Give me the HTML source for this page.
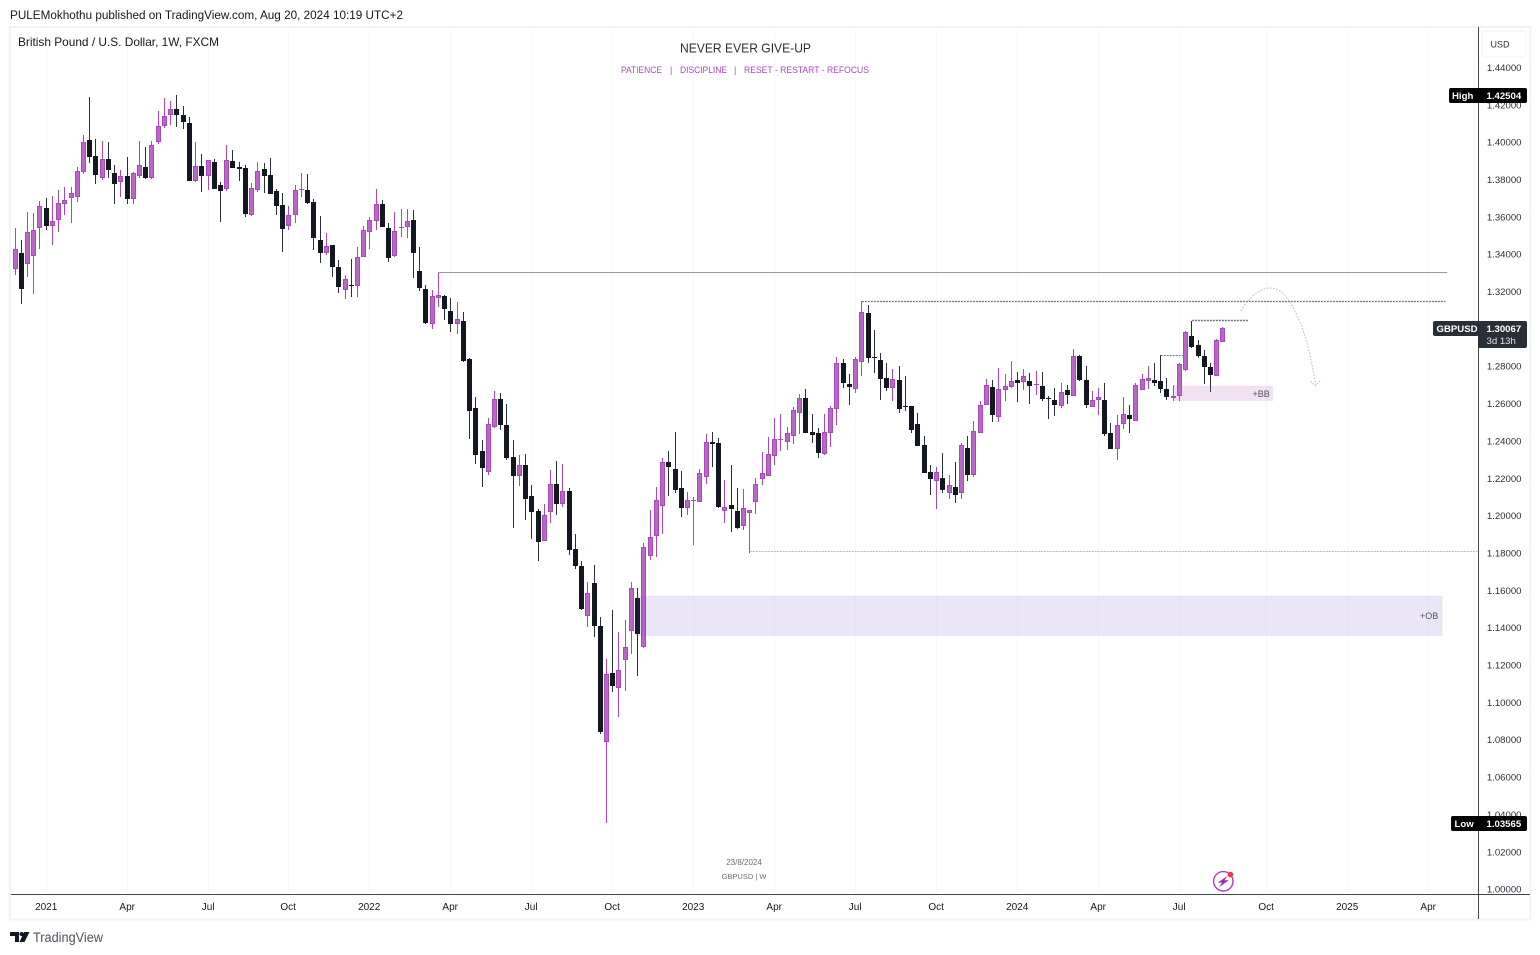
<!DOCTYPE html>
<html lang="en">
<head>
<meta charset="utf-8">
<title>GBPUSD weekly chart</title>
<style>
html,body{margin:0;padding:0;background:#fff;width:1540px;height:955px;overflow:hidden}
svg{display:block;font-family:"Liberation Sans",sans-serif}
</style>
</head>
<body>
<svg id="chart" xmlns="http://www.w3.org/2000/svg" width="1540" height="955" viewBox="0 0 1540 955">
  <defs><clipPath id="pane-clip"><rect x="11" y="28" width="1467" height="866"/></clipPath></defs>
  <rect x="0" y="0" width="1540" height="955" fill="#ffffff"/>
  <text x="10" y="19" font-size="11.5" fill="#131722" textLength="393" lengthAdjust="spacingAndGlyphs">PULEMokhothu published on TradingView.com, Aug 20, 2024 10:19 UTC+2</text>
  <g id="grid"></g>
  <g id="candles" clip-path="url(#pane-clip)"></g>
  <g id="drawings"></g>
  <text x="18" y="46" font-size="12" fill="#131722" textLength="201" lengthAdjust="spacingAndGlyphs">British Pound / U.S. Dollar, 1W, FXCM</text>
  <text x="680" y="52.5" font-size="12.5" fill="#2a2e39" textLength="131" lengthAdjust="spacingAndGlyphs">NEVER EVER GIVE-UP</text>
  <g font-size="9" fill="#ab47bc">
    <text x="621" y="73" textLength="41" lengthAdjust="spacingAndGlyphs">PATIENCE</text>
    <text x="670" y="73">|</text>
    <text x="680" y="73" textLength="47" lengthAdjust="spacingAndGlyphs">DISCIPLINE</text>
    <text x="734" y="73">|</text>
    <text x="744" y="73" textLength="125" lengthAdjust="spacingAndGlyphs">RESET - RESTART - REFOCUS</text>
  </g>
  <text x="744" y="865" font-size="8" fill="#6a6d78" text-anchor="middle">23/8/2024</text>
  <text x="744" y="879" font-size="7.5" fill="#6a6d78" text-anchor="middle">GBPUSD | W</text>
  <g>
    <circle cx="1223.3" cy="881.3" r="9.7" fill="#ffffff" stroke="#a63fc0" stroke-width="1.4"/>
    <path d="M1227.6 875.8 L1217.8 882.6 L1222.2 882.6 L1219 887.2 L1228.8 880.2 L1224.4 880.2 Z" fill="#9c27b0"/>
    <circle cx="1230.4" cy="874.6" r="2.8" fill="#f23645"/>
  </g>
  <g id="axes">
    <rect x="10" y="27" width="1520.5" height="892.5" fill="none" stroke="#f0f3fa" stroke-width="2"/>
    <line x1="11" y1="894.5" x2="1530" y2="894.5" stroke="#434651" stroke-width="1"/>
    <line x1="1478.5" y1="27" x2="1478.5" y2="919" stroke="#434651" stroke-width="1"/>
    <rect x="1482" y="31" width="44" height="26" rx="4" fill="#ffffff" stroke="#f0f3fa" stroke-width="1"/>
    <text x="1500" y="47.5" font-size="9" fill="#2a2e39" text-anchor="middle">USD</text>
  </g>
  <g id="price-labels"></g>
  <g id="time-labels"></g>
  <g>
    <rect x="1449" y="88" width="78" height="15" rx="2" fill="#000000"/>
    <text x="1452" y="98.8" font-size="9.6" font-weight="bold" fill="#ffffff">High</text>
    <text x="1486.5" y="99" font-size="9.6" font-weight="bold" fill="#ffffff">1.42504</text>
  </g>
  <g>
    <rect x="1451" y="816" width="76" height="15" rx="2" fill="#000000"/>
    <text x="1454.5" y="826.8" font-size="9.6" font-weight="bold" fill="#ffffff">Low</text>
    <text x="1486.5" y="827" font-size="9.6" font-weight="bold" fill="#ffffff">1.03565</text>
  </g>
  <g>
    <rect x="1433" y="321" width="46" height="15" rx="2" fill="#2a2e39"/>
    <rect x="1478" y="321" width="49" height="27" rx="2" fill="#2a2e39"/>
    <text x="1436.5" y="332" font-size="9.6" font-weight="bold" fill="#ffffff">GBPUSD</text>
    <text x="1486.5" y="332" font-size="9.6" font-weight="bold" fill="#ffffff">1.30067</text>
    <text x="1486.5" y="344" font-size="9.6" fill="#e0e3eb">3d 13h</text>
  </g>
  <line x1="1478.5" y1="104" x2="1478.5" y2="320" stroke="#434651" stroke-width="1"/>
  <g>
    <polygon points="10,932 19,932 19,942 15,942 15,936 10,936" fill="#131722"/>
    <circle cx="21.5" cy="934" r="2" fill="#131722"/>
    <polygon points="24,932 29.5,932 24.5,942 19.5,942" fill="#131722"/>
    <text x="33" y="942" font-size="13.5" fill="#50535e" textLength="70" lengthAdjust="spacingAndGlyphs">TradingView</text>
  </g>
</svg>
<script>
const highs = [
1.3353,1.3540,1.3476,1.3626,1.3620,1.3683,1.3701,1.3711,1.3744,1.3760,
1.3760,1.3865,1.4038,1.4242,1.4017,1.4006,1.4001,1.3878,1.3851,1.3920,
1.3840,1.4006,1.3974,1.4006,1.4167,1.4236,1.4220,1.4250,1.4193,1.4135,
1.4001,1.3936,1.3904,1.3910,1.3786,1.3985,1.3958,1.3894,1.3878,1.3781,
1.3894,1.3888,1.3915,1.3749,1.3728,1.3658,1.3770,1.3835,1.3829,1.3695,
1.3604,1.3513,1.3449,1.3369,1.3288,1.3374,1.3438,1.3551,1.3599,1.3749,
1.3690,1.3567,1.3626,1.3642,1.3642,1.3636,1.3438,1.3235,1.3208,1.3303,
1.3181,1.3165,1.3144,1.3090,1.2844,1.2635,1.2405,1.2523,1.2667,1.2656,
1.2598,1.2405,1.2325,1.2330,1.2164,1.2035,1.2062,1.2244,1.2292,1.2276,
1.2148,1.1901,1.1757,1.1644,1.1736,1.1457,1.1232,1.1494,1.1377,1.1441,
1.1644,1.1612,1.1853,1.2030,1.2153,1.2308,1.2346,1.2448,1.2239,1.2126,
1.2100,1.2249,1.2437,1.2448,1.2415,1.2191,1.2271,1.2148,1.2142,1.2030,
1.2201,1.2341,1.2421,1.2523,1.2544,1.2474,1.2581,1.2651,1.2678,1.2544,
1.2469,1.2544,1.2587,1.2849,1.2838,1.2758,1.2849,1.3149,1.3128,1.2994,
1.2871,1.2817,1.2785,1.2801,1.2748,1.2587,1.2549,1.2426,1.2271,1.2260,
1.2335,1.2217,1.2287,1.2389,1.2426,1.2507,1.2614,1.2732,1.2726,1.2790,
1.2758,1.2828,1.2769,1.2785,1.2764,1.2774,1.2769,1.2640,1.2683,1.2710,
1.2699,1.2892,1.2860,1.2801,1.2667,1.2683,1.2710,1.2496,1.2539,1.2635,
1.2592,1.2710,1.2758,1.2801,1.2817,1.2860,1.2737,1.2699,1.2817,1.2989,
1.3042,1.2940,1.2887,1.2817,1.2946,1.3010];
const lows = [
1.3235,1.3288,1.3133,1.3280,1.3187,1.3428,1.3529,1.3449,1.3519,1.3610,
1.3567,1.3679,1.3829,1.3888,1.3776,1.3797,1.3808,1.3669,1.3706,1.3669,
1.3669,1.3808,1.3803,1.3803,1.3990,1.4076,1.4092,1.4081,1.4070,1.3792,
1.3786,1.3733,1.3744,1.3749,1.3572,1.3738,1.3861,1.3792,1.3599,1.3604,
1.3733,1.3728,1.3722,1.3610,1.3412,1.3529,1.3567,1.3706,1.3669,1.3422,
1.3353,1.3395,1.3278,1.3192,1.3160,1.3171,1.3171,1.3385,1.3428,1.3529,
1.3545,1.3358,1.3385,1.3492,1.3487,1.3272,1.3203,1.3026,1.2999,1.3117,
1.3047,1.2983,1.2972,1.2822,1.2410,1.2276,1.2153,1.2217,1.2469,1.2458,
1.2298,1.1934,1.2158,1.1976,1.1875,1.1757,1.1864,1.1960,1.2003,1.2046,
1.1789,1.1714,1.1495,1.1403,1.1350,1.0830,1.0356,1.1055,1.0921,1.1061,
1.1259,1.1141,1.1291,1.1762,1.1778,1.1901,1.2105,1.2121,1.1992,1.2003,
1.1842,1.2073,1.2169,1.2260,1.2041,1.1960,1.1912,1.1928,1.1923,1.1800,
1.2009,1.2164,1.2213,1.2271,1.2346,1.2351,1.2383,1.2437,1.2442,1.2389,
1.2308,1.2324,1.2367,1.2485,1.2683,1.2592,1.2656,1.2748,1.2817,1.2764,
1.2619,1.2667,1.2614,1.2549,1.2560,1.2442,1.2373,1.2228,1.2110,1.2035,
1.2121,1.2089,1.2067,1.2089,1.2185,1.2207,1.2442,1.2592,1.2501,1.2501,
1.2614,1.2683,1.2608,1.2673,1.2598,1.2646,1.2614,1.2517,1.2533,1.2576,
1.2598,1.2640,1.2721,1.2576,1.2582,1.2539,1.2426,1.2357,1.2298,1.2464,
1.2442,1.2507,1.2673,1.2678,1.2694,1.2656,1.2619,1.2614,1.2614,1.2774,
1.2898,1.2844,1.2705,1.2662,1.2748,1.2930];
const opens = [
1.3283,1.3322,1.3406,1.3349,1.3392,1.3542,1.3647,1.3553,1.3585,1.3670,
1.3703,1.3708,1.3842,1.4011,1.3926,1.3810,1.3910,1.3835,1.3788,1.3819,
1.3697,1.3820,1.3867,1.3810,1.4002,1.4088,1.4147,1.4177,1.4145,1.4102,
1.3794,1.3872,1.3820,1.3894,1.3770,1.3751,1.3899,1.3867,1.3861,1.3612,
1.3745,1.3856,1.3824,1.3738,1.3663,1.3551,1.3612,1.3744,1.3744,1.3679,
1.3476,1.3408,1.3449,1.3331,1.3210,1.3235,1.3229,1.3387,1.3520,1.3579,
1.3669,1.3540,1.3392,1.3540,1.3547,1.3583,1.3310,1.3213,1.3028,1.3167,
1.3176,1.3096,1.3028,1.3042,1.2839,1.2576,1.2346,1.2235,1.2476,1.2624,
1.2485,1.2314,1.2214,1.2271,1.2105,1.2025,1.1866,1.2021,1.2169,1.2064,
1.2132,1.1821,1.1730,1.1464,1.1639,1.1409,1.0789,1.1157,1.1079,1.1228,
1.1384,1.1559,1.1298,1.1785,1.1889,1.2053,1.2287,1.2249,1.2148,1.2042,
1.2078,1.2075,1.2208,1.2394,1.2389,1.2026,1.2057,1.2025,1.1946,1.2016,
1.2075,1.2198,1.2214,1.2321,1.2405,1.2396,1.2428,1.2551,1.2630,1.2448,
1.2442,1.2332,1.2444,1.2573,1.2817,1.2705,1.2680,1.2824,1.3085,1.2849,
1.2833,1.2737,1.2685,1.2726,1.2587,1.2587,1.2491,1.2378,1.2234,1.2187,
1.2201,1.2123,1.2153,1.2123,1.2362,1.2219,1.2444,1.2594,1.2689,1.2530,
1.2674,1.2690,1.2726,1.2714,1.2721,1.2699,1.2694,1.2630,1.2619,1.2589,
1.2673,1.2642,1.2855,1.2726,1.2583,1.2617,1.2619,1.2442,1.2358,1.2492,
1.2539,1.2508,1.2674,1.2723,1.2726,1.2721,1.2678,1.2632,1.2642,1.2782,
1.2962,1.2914,1.2855,1.2796,1.2749,1.2931];
const closes = [
1.3304,1.3426,1.3213,1.3517,1.3528,1.3656,1.3551,1.3576,1.3672,1.3688,
1.3726,1.3844,1.3999,1.3920,1.3824,1.3908,1.3851,1.3776,1.3817,1.3695,
1.3833,1.3876,1.3808,1.3983,1.4085,1.4138,1.4176,1.4145,1.4108,1.3792,
1.3870,1.3819,1.3903,1.3749,1.3738,1.3903,1.3861,1.3856,1.3615,1.3753,
1.3844,1.3819,1.3722,1.3658,1.3535,1.3608,1.3742,1.3749,1.3674,1.3487,
1.3406,1.3442,1.3331,1.3224,1.3265,1.3229,1.3383,1.3528,1.3581,1.3667,
1.3545,1.3379,1.3522,1.3545,1.3576,1.3406,1.3219,1.3031,1.3174,1.3180,
1.3106,1.3026,1.3051,1.2828,1.2560,1.2325,1.2255,1.2489,1.2623,1.2485,
1.2309,1.2212,1.2269,1.2089,1.2019,1.1859,1.2001,1.2167,1.2062,1.2130,
1.1816,1.1730,1.1500,1.1584,1.1409,1.0841,1.1150,1.1087,1.1171,1.1295,
1.1610,1.1366,1.1832,1.1884,1.2082,1.2285,1.2260,1.2137,1.2041,1.2082,
1.2083,1.2226,1.2392,1.2383,1.2046,1.2044,1.2035,1.1934,1.2039,1.2028,
1.2167,1.2226,1.2328,1.2408,1.2410,1.2440,1.2564,1.2628,1.2442,1.2431,
1.2335,1.2446,1.2574,1.2815,1.2710,1.2689,1.2837,1.3089,1.2844,1.2844,
1.2732,1.2683,1.2730,1.2571,1.2582,1.2458,1.2373,1.2228,1.2196,1.2232,
1.2137,1.2162,1.2110,1.2376,1.2217,1.2451,1.2591,1.2698,1.2539,1.2676,
1.2692,1.2719,1.2710,1.2746,1.2694,1.2705,1.2624,1.2624,1.2592,1.2660,
1.2646,1.2855,1.2726,1.2592,1.2617,1.2633,1.2437,1.2357,1.2483,1.2542,
1.2517,1.2698,1.2730,1.2735,1.2710,1.2678,1.2635,1.2640,1.2810,1.2981,
1.2903,1.2855,1.2796,1.2753,1.2939,1.3007];
const priceTicks = [1.44,1.42,1.40,1.38,1.36,1.34,1.32,1.30,1.28,1.26,1.24,1.22,1.20,1.18,1.16,1.14,1.12,1.10,1.08,1.06,1.04,1.02,1.00];
const timeTickLabels = ["2021","Apr","Jul","Oct","2022","Apr","Jul","Oct","2023","Apr","Jul","Oct","2024","Apr","Jul","Oct","2025","Apr"];
const timeTickBars = [6,19,32,45,58,71,84,97,110,123,136,149,162,175,188,202,215,228];

const NS = "http://www.w3.org/2000/svg";
function yScale(p){ return 889.1 - (p - 1) * 1867.4; }
function xScale(i){ return 15 + (i - 1) * 6.2268; }
function make(tag, attrs, parent){
  const el = document.createElementNS(NS, tag);
  for (const k in attrs) el.setAttribute(k, attrs[k]);
  parent.appendChild(el);
  return el;
}
const gridG = document.getElementById("grid");
const candleG = document.getElementById("candles");
const drawG = document.getElementById("drawings");
const priceG = document.getElementById("price-labels");
const timeG = document.getElementById("time-labels");

timeTickBars.forEach(function(bar, n){
  const gx = Math.floor(xScale(bar)) + 0.5;
  const gl = make("line", {x1:gx, y1:28, x2:gx, y2:894, stroke:"#f8f8fb", "stroke-width":1}, gridG);
  
  
  const tl = make("text", {x:gx - 0.3, y:910, "font-size":10, fill:"#131722", "text-anchor":"middle"}, timeG);
  tl.textContent = timeTickLabels[n];
  
  
});

opens.forEach(function(o, i){
  const c = closes[i];
  const up = c >= o;
  const cx = Math.floor(xScale(i));
  const edge = up ? "#ab47bc" : "#2a2e39";
  const g = make("g", {}, candleG);
  
  
  const top = Math.round(yScale(Math.max(o, c)));
  const bot = Math.max(Math.round(yScale(Math.min(o, c))), top + 1);
  const wt = Math.round(yScale(highs[i]));
  const wb = Math.round(yScale(lows[i]));
  make("rect", {x:cx, y:wt, width:1, height:Math.max(wb - wt, 1), fill:edge}, g);
  if (up) {
    if (bot - top >= 3) {
      make("rect", {x:cx - 1.5, y:top + 0.5, width:4, height:bot - top - 1, fill:"#ba68c8", stroke:"#ab47bc", "stroke-width":1}, g);
    } else {
      make("rect", {x:cx - 2, y:top, width:5, height:bot - top, fill:"#ab47bc"}, g);
    }
  } else {
    make("rect", {x:cx - 2, y:top, width:5, height:bot - top, fill:"#131722"}, g);
  }
});

/* drawings, anchored by bar index and price */
function level(name, barA, barB, price, color, dash, width){
  const yy = Math.round(yScale(price)) + 0.5;
  const l = make("line", {x1:xScale(barA), y1:yy, x2:xScale(barB), y2:yy, stroke:color, "stroke-width":width}, drawG);
  if (dash) l.setAttribute("stroke-dasharray", dash);
  
  
}
function zone(name, barA, barB, priceTop, priceBot, fill, edge){
  const z = make("rect", {x:xScale(barA), y:yScale(priceTop), width:xScale(barB) - xScale(barA), height:yScale(priceBot) - yScale(priceTop), fill:fill, stroke:edge, "stroke-width":1}, drawG);
  
  
}
zone("order-block-zone", 100.84, 230.2, 1.1570, 1.1357, "rgba(103,58,183,0.13)", "rgba(103,58,183,0.04)");
zone("breaker-block-zone", 187, 203, 1.2694, 1.2615, "rgba(186,104,200,0.2)", "rgba(186,104,200,0.05)");
level("resistance-line", 68.95, 231, 1.3303, "#9c96ac", null, 1);
level("swing-high-dotted-line", 137, 230.7, 1.3149, "#6f7280", "2 1", 1.3);
level("swing-low-dotted-line", 119, 235.9, 1.1810, "#b8bac2", "2 1", 1);
level("recent-high-dotted-line", 190, 199, 1.3045, "#6f7280", "2 1", 1.6);
level("minor-high-dotted-line", 185, 189, 1.2860, "#7a7d88", "2 1", 1);
const arc = make("path", {d:"M1241,311 C1250,295 1262,288 1270,288 C1285,288 1293,305 1303,330 C1309,347 1312,365 1316,385", fill:"none", stroke:"#c4c4c8", "stroke-width":1.2, "stroke-dasharray":"1.6 1.6"}, drawG);


const head = make("path", {d:"M1310.5,381.5 L1315.5,385.5 L1320,381", fill:"none", stroke:"#c4c4c8", "stroke-width":1.2, "stroke-dasharray":"1.6 1.2"}, drawG);


const obText = make("text", {x:1420, y:619, "font-size":9, fill:"#50535e"}, drawG);
obText.textContent = "+OB";


const bbText = make("text", {x:1252.5, y:397, "font-size":9, fill:"#50535e"}, drawG);
bbText.textContent = "+BB";



priceTicks.forEach(function(p){
  const t = make("text", {x:1521.5, y:yScale(p) + 3.5, "font-size":9.6, fill:"#2a2e39", "text-anchor":"end"}, priceG);
  t.textContent = p.toFixed(5);
  
  
});
</script>
</body>
</html>
